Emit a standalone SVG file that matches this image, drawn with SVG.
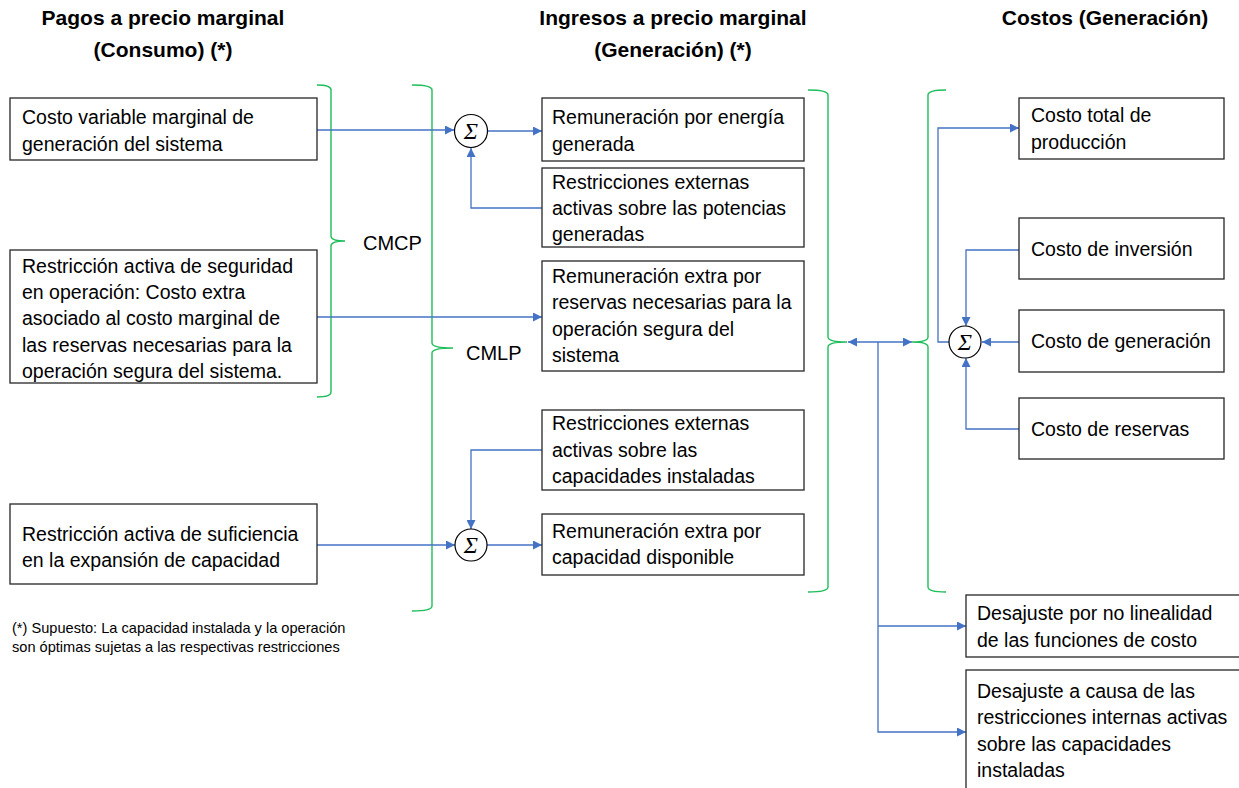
<svg xmlns="http://www.w3.org/2000/svg" width="1239" height="788" viewBox="0 0 1239 788">
  <defs>
    <style>
      .box { fill: #ffffff; stroke: #262626; stroke-width: 1.3; }
      .t { font-family: "Liberation Sans", Arial, sans-serif; font-size: 19.5px; fill: #000000; }
      .title { font-family: "Liberation Sans", Arial, sans-serif; font-size: 21px; font-weight: bold; fill: #000000; text-anchor: middle; }
      .lbl { font-family: "Liberation Sans", Arial, sans-serif; font-size: 20px; fill: #000000; }
      .note { font-family: "Liberation Sans", Arial, sans-serif; font-size: 14.6px; fill: #000000; }
      .brace { fill: none; stroke: #1EBE5A; stroke-width: 1.4; }
      .sum { fill: #ffffff; stroke: #000000; stroke-width: 1.2; }
      .sig { font-family: "Liberation Serif", "Times New Roman", serif; font-style: italic; font-size: 24px; text-anchor: middle; fill: #000000; }
      .c { fill: none; stroke: #4472C4; stroke-width: 1.3; }
    </style>
    <marker id="arr" viewBox="0 0 10 10" refX="10" refY="5" markerWidth="10" markerHeight="9" markerUnits="userSpaceOnUse" orient="auto-start-reverse">
      <path d="M0,0 L10,5 L0,10 Z" fill="#4472C4"/>
    </marker>
  </defs>

  <rect width="1239" height="788" fill="#ffffff"/>

  <!-- column headings -->
  <g id="titles">
    <text class="title" x="163" y="25">Pagos a precio marginal</text>
    <text class="title" x="163" y="57">(Consumo) (*)</text>
    <text class="title" x="673" y="25">Ingresos a precio marginal</text>
    <text class="title" x="673" y="57">(Generación) (*)</text>
    <text class="title" x="1105" y="25">Costos (Generación)</text>
  </g>

  <!-- braces -->
  <g id="braces">
    <path class="brace" d="M317,85 Q331,85 331,90 L331,236 Q331,241 345,241 Q331,241 331,246 L331,392 Q331,397 317,397"/>
    <path class="brace" d="M412,85 Q432,85 432,90 L432,343 Q432,348 453,348 Q432,348 432,353 L432,606 Q432,611 412,611"/>
    <path class="brace" d="M808,90 Q828,90 828,95 L828,337 Q828,342 847,342 Q828,342 828,347 L828,587 Q828,592 808,592"/>
    <path class="brace" d="M946,90 Q928,90 928,95 L928,337 Q928,342 912,342 Q928,342 928,347 L928,587 Q928,592 946,592"/>
    <text class="lbl" x="363" y="250">CMCP</text>
    <text class="lbl" x="466" y="360">CMLP</text>
  </g>

  <!-- connectors -->
  <g id="connectors">
    <path class="c" d="M317,130 L454,130" marker-end="url(#arr)"/>
    <path class="c" d="M488,131 L542,131" marker-end="url(#arr)"/>
    <path class="c" d="M542,208 L471,208 L471,148" marker-end="url(#arr)"/>
    <path class="c" d="M317,317 L542,317" marker-end="url(#arr)"/>
    <path class="c" d="M542,450 L471,450 L471,529" marker-end="url(#arr)"/>
    <path class="c" d="M317,545 L455,545" marker-end="url(#arr)"/>
    <path class="c" d="M487,545 L542,545" marker-end="url(#arr)"/>
    <path class="c" d="M848,342 L912,342" marker-start="url(#arr)" marker-end="url(#arr)"/>
    <path class="c" d="M878,342 L878,732 L966,732" marker-end="url(#arr)"/>
    <path class="c" d="M878,626 L966,626" marker-end="url(#arr)"/>
    <path class="c" d="M949,342 L938,342 L938,128 L1019,128" marker-end="url(#arr)"/>
    <path class="c" d="M1019,250 L966,250 L966,326" marker-end="url(#arr)"/>
    <path class="c" d="M1019,342 L982,342" marker-end="url(#arr)"/>
    <path class="c" d="M1019,429 L966,429 L966,358" marker-end="url(#arr)"/>
  </g>

  <!-- summing junctions -->
  <g id="sum1"><circle class="sum" cx="471" cy="131" r="16.5"/><text class="sig" x="471" y="139">Σ</text></g>
  <g id="sum2"><circle class="sum" cx="471" cy="545" r="16"/><text class="sig" x="471" y="553">Σ</text></g>
  <g id="sum3"><circle class="sum" cx="965" cy="342" r="16"/><text class="sig" x="965" y="350">Σ</text></g>

  <!-- consumption side -->
  <g id="costo-variable">
    <rect class="box" x="10" y="98" width="307" height="62"/>
    <text class="t" x="22" y="124">Costo variable marginal de</text>
    <text class="t" x="22" y="151">generación del sistema</text>
  </g>
  <g id="restriccion-seguridad">
    <rect class="box" x="10" y="250" width="307" height="133"/>
    <text class="t" x="22" y="273">Restricción activa de seguridad</text>
    <text class="t" x="22" y="299">en operación: Costo extra</text>
    <text class="t" x="22" y="325">asociado al costo marginal de</text>
    <text class="t" x="22" y="352">las reservas necesarias para la</text>
    <text class="t" x="22" y="378">operación  segura del sistema.</text>
  </g>
  <g id="restriccion-suficiencia">
    <rect class="box" x="10" y="504" width="307" height="80"/>
    <text class="t" x="22" y="541">Restricción activa de suficiencia</text>
    <text class="t" x="22" y="567">en la expansión de capacidad</text>
  </g>

  <!-- generation income -->
  <g id="rem-energia">
    <rect class="box" x="542" y="98" width="262" height="63"/>
    <text class="t" x="552" y="124">Remuneración  por energía</text>
    <text class="t" x="552" y="151">generada</text>
  </g>
  <g id="restr-potencias">
    <rect class="box" x="542" y="168" width="262" height="79"/>
    <text class="t" x="552" y="189">Restricciones  externas</text>
    <text class="t" x="552" y="215">activas sobre las potencias</text>
    <text class="t" x="552" y="241">generadas</text>
  </g>
  <g id="rem-reservas">
    <rect class="box" x="542" y="261" width="262" height="110"/>
    <text class="t" x="552" y="283">Remuneración  extra por</text>
    <text class="t" x="552" y="309">reservas necesarias para la</text>
    <text class="t" x="552" y="336">operación segura del</text>
    <text class="t" x="552" y="362">sistema</text>
  </g>
  <g id="restr-capacidades">
    <rect class="box" x="542" y="410" width="262" height="80"/>
    <text class="t" x="552" y="430">Restricciones  externas</text>
    <text class="t" x="552" y="457">activas sobre las</text>
    <text class="t" x="552" y="483">capacidades instaladas</text>
  </g>
  <g id="rem-capacidad">
    <rect class="box" x="542" y="514" width="262" height="61"/>
    <text class="t" x="552" y="538">Remuneración  extra por</text>
    <text class="t" x="552" y="564">capacidad disponible</text>
  </g>

  <!-- generation costs -->
  <g id="costo-total">
    <rect class="box" x="1019" y="98" width="205" height="61"/>
    <text class="t" x="1031" y="122">Costo total de</text>
    <text class="t" x="1031" y="149">producción</text>
  </g>
  <g id="costo-inversion">
    <rect class="box" x="1019" y="218" width="205" height="61"/>
    <text class="t" x="1031" y="256">Costo de inversión</text>
  </g>
  <g id="costo-generacion">
    <rect class="box" x="1019" y="310" width="205" height="62"/>
    <text class="t" x="1031" y="348">Costo de generación</text>
  </g>
  <g id="costo-reservas">
    <rect class="box" x="1019" y="398" width="205" height="61"/>
    <text class="t" x="1031" y="436">Costo de reservas</text>
  </g>
  <g id="desajuste-linealidad">
    <rect class="box" x="966" y="595" width="280" height="62"/>
    <text class="t" x="977" y="620">Desajuste por no linealidad</text>
    <text class="t" x="977" y="647">de las funciones de costo</text>
  </g>
  <g id="desajuste-restricciones">
    <rect class="box" x="966" y="670" width="280" height="130"/>
    <text class="t" x="977" y="698">Desajuste a causa de las</text>
    <text class="t" x="977" y="724">restricciones  internas activas</text>
    <text class="t" x="977" y="751">sobre las capacidades</text>
    <text class="t" x="977" y="777">instaladas</text>
  </g>

  <!-- footnote -->
  <g id="nota">
    <text class="note" x="12" y="633">(*) Supuesto: La capacidad instalada y la operación</text>
    <text class="note" x="12" y="652">son óptimas sujetas a las respectivas restricciones</text>
  </g>
</svg>
